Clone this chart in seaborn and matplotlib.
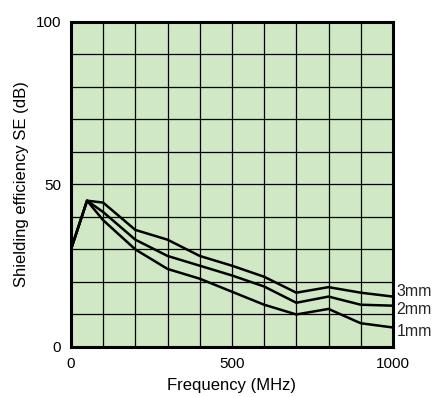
import matplotlib
matplotlib.use("Agg")
import matplotlib.pyplot as plt
import seaborn as sns
import pandas as pd

freq = [0, 50, 100, 200, 300, 400, 500, 600, 700, 800, 900, 1000]
se_1mm = [30, 45, 39, 30, 24, 21, 17, 13, 10, 11.7, 7.3, 6]
se_2mm = [30, 45, 41.5, 33, 28, 25, 22, 18.6, 13.6, 15.5, 13, 12.7]
se_3mm = [30, 45, 44.4, 36, 33, 28, 25, 21.6, 16.7, 18.4, 16.7, 15.5]
series_labels = ["1mm", "2mm", "3mm"]
x_ticks = [0, 500, 1000]
y_ticks = [0, 50, 100]

sns.set_theme(style="white")
plt.rcParams['font.family'] = ['Liberation Sans', 'DejaVu Sans']

df = pd.concat([
    pd.DataFrame({"freq": freq, "se": vals, "thickness": lab})
    for vals, lab in zip([se_1mm, se_2mm, se_3mm], series_labels)
])

fig = plt.figure(figsize=(4.38, 3.97), dpi=100)
ax = fig.add_axes([0.162, 0.126, 0.735, 0.819])
ax.set_facecolor("#d0e8c4")

sns.lineplot(data=df, x="freq", y="se", hue="thickness",
             palette=["black"] * 3, linewidth=1.8, legend=False, ax=ax)

ax.set_xlim(0, 1000)
ax.set_ylim(0, 100)
ax.set_xticks(range(0, 1001, 100))
ax.set_yticks(range(0, 101, 10))
ax.set_xticklabels([str(t) if t in x_ticks else "" for t in range(0, 1001, 100)])
ax.set_yticklabels([str(t) if t in y_ticks else "" for t in range(0, 101, 10)])
ax.grid(True, color="black", linewidth=0.9)
ax.set_axisbelow(True)
ax.tick_params(length=0, labelsize=11, colors="black", pad=7)
for s in ax.spines.values():
    s.set_visible(True)
    s.set_color("black")
    s.set_linewidth(2.2)

ax.set_xlabel("Frequency (MHz)", fontsize=12, color="black", labelpad=5)
ax.set_ylabel("Shielding efficiency SE (dB)", fontsize=12, color="black", labelpad=5)

for lab, yv in zip(["3mm", "2mm", "1mm"], [17.2, 11.4, 4.7]):
    ax.text(1012, yv, lab, fontsize=11.5, va="center", ha="left", clip_on=False)

fig.savefig("out.png", dpi=100)
